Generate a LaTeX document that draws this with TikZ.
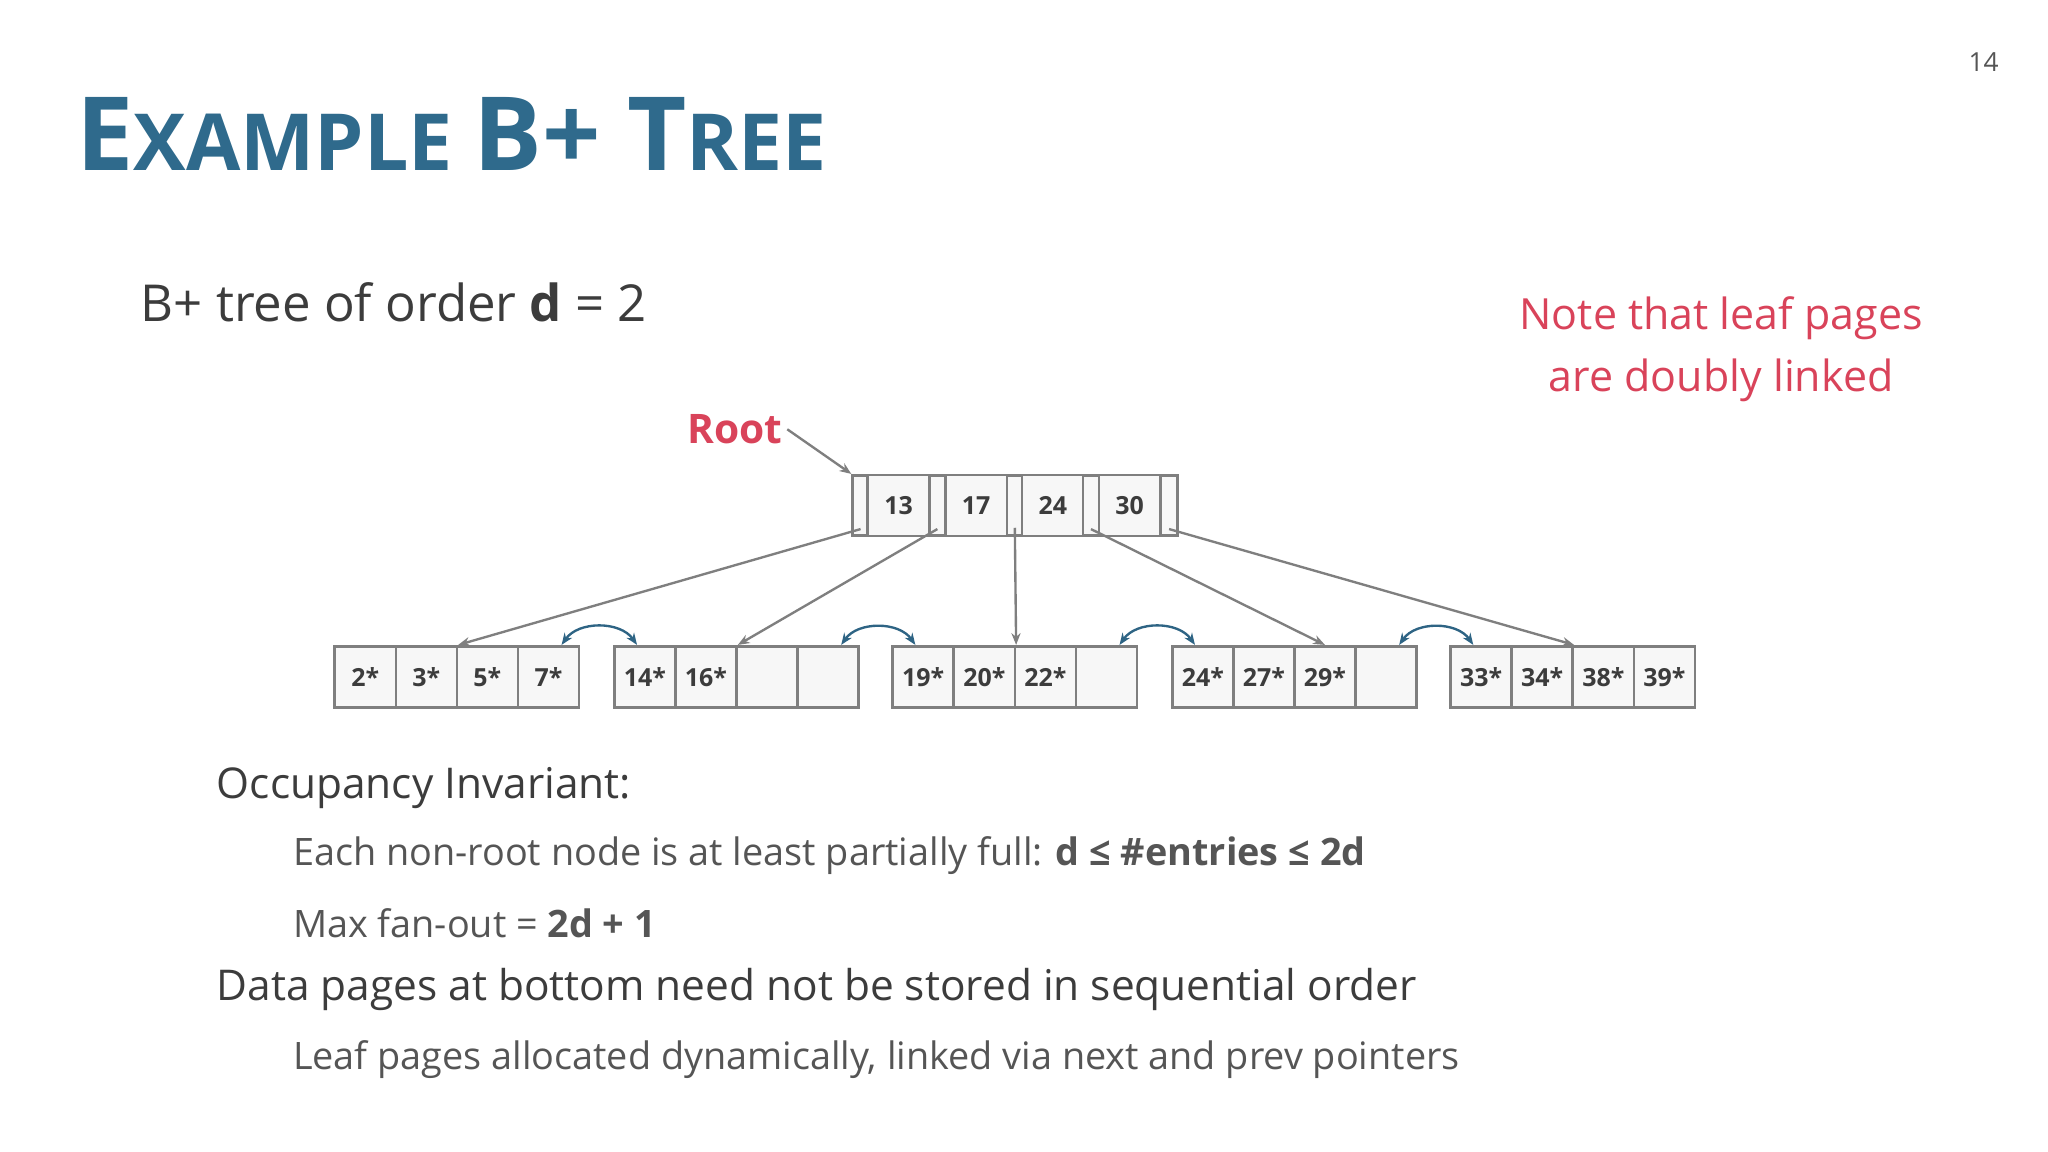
\documentclass[tikz,border=0pt]{standalone}
\usepackage{fontspec}
\setmainfont{Open Sans}
\usetikzlibrary{arrows.meta}
\definecolor{ttl}{HTML}{2F6A8C}
\definecolor{txt}{HTML}{3C3C3C}
\definecolor{sub}{HTML}{555555}
\definecolor{rd}{HTML}{D9435A}
\definecolor{bx}{HTML}{7F7F7F}
\definecolor{fl}{HTML}{F7F7F7}
\definecolor{lk}{HTML}{2E6484}
\tikzset{
 cell/.style={draw=bx,fill=fl,line width=2pt,minimum width=46.5pt,minimum height=46.5pt,inner sep=0pt,font=\fontsize{19}{19}\selectfont\bfseries,text=txt},
 slot/.style={draw=bx,fill=fl,line width=2pt,minimum width=12pt,minimum height=46pt,inner sep=0pt},
 ptr/.style={draw=bx,line width=1.8pt,-{Stealth[length=9pt,width=7pt]}},
 link/.style={draw=lk,line width=1.8pt,{Stealth[length=9pt,width=7pt]}-{Stealth[length=9pt,width=7pt]}},
 body/.style={anchor=west,inner sep=0pt,text=txt},
}
\begin{document}
\begin{tikzpicture}[x=1pt,y=-1pt]
\useasboundingbox (0,0) rectangle (1560,877.5);
\node[anchor=east,text=sub,font=\fontsize{20}{20}\selectfont] (pg) at (1526,47) {14};
\node[anchor=base west,inner sep=0pt,text=ttl,font=\bfseries] (title) at (58,130)
 {\fontsize{78}{78}\selectfont E\fontsize{60}{60}\selectfont XAMPLE \fontsize{78}{78}\selectfont B+ T\fontsize{60}{60}\selectfont REE};
\node[body,font=\fontsize{38.8}{38.8}\selectfont] (order) at (107,230) {B+ tree of order \textbf{d} = 2};
\node[text=rd,align=center,font=\fontsize{32.7}{47}\selectfont] (note) at (1311,266) {Note that leaf pages\\are doubly linked};
\node[text=rd,font=\fontsize{31}{31}\selectfont\bfseries] (root) at (560,327) {Root};
% root node
\node[slot] (s1) at (655.5,385) {};
\node[cell,minimum width=47pt] (k1) at (684.5,385) {13};
\node[slot] (s2) at (714,385) {};
\node[cell,minimum width=47pt] (k2) at (743.5,385) {17};
\node[slot] (s3) at (773,385) {};
\node[cell,minimum width=47pt] (k3) at (802,385) {24};
\node[slot] (s4) at (831,385) {};
\node[cell,minimum width=47pt] (k4) at (860.5,385) {30};
\node[slot,minimum width=13pt] (s5) at (890.5,385) {};
\draw[ptr] (root.east) -- (s1.north west);
% leaves
\foreach \l/\x/\a/\b/\c/\d in {1/255/2*/3*/5*/7*,2/468/14*/16*//,3/680/19*/20*/22*/,4/893/24*/27*/29*/,5/1105/33*/34*/38*/39*}{
 \node[cell] (l\l c1) at (\x+23.25,515.5) {\a};
 \node[cell] (l\l c2) at (\x+69.75,515.5) {\b};
 \node[cell] (l\l c3) at (\x+116.25,515.5) {\c};
 \node[cell] (l\l c4) at (\x+162.75,515.5) {\d};
}
\draw[ptr] ([yshift=-18pt]s1.center) -- (l1c2.north east);
\draw[ptr] ([yshift=-18pt]s2.center) -- (l2c2.north east);
\draw[ptr] ([yshift=-17pt]s3.center) -- (l3c2.north east);
\draw[ptr] ([yshift=-18pt]s4.center) -- (l4c3.north);
\draw[ptr] ([yshift=-18pt]s5.center) -- (l5c2.north east);
\draw[link] ([xshift=10pt]l1c4.north) to[bend left=55] ([xshift=-6pt]l2c1.north);
\draw[link] ([xshift=10pt]l2c4.north) to[bend left=55] ([xshift=-6pt]l3c1.north);
\draw[link] ([xshift=10pt]l3c4.north) to[bend left=55] ([xshift=-6pt]l4c1.north);
\draw[link] ([xshift=10pt]l4c4.north) to[bend left=55] ([xshift=-6pt]l5c1.north);
% bullets
\node[body,font=\fontsize{32.3}{32.3}\selectfont] (occ) at (165,600) {Occupancy Invariant:};
\node[body,text=sub,font=\fontsize{28.8}{28.8}\selectfont] (each) at (223,652) {Each non-root node is at least partially full: \textbf{d ≤ \#entries ≤ 2d}};
\node[body,text=sub,font=\fontsize{28.8}{28.8}\selectfont] (fan) at (223,703) {Max fan-out = \textbf{2d + 1}};
\node[body,font=\fontsize{32.3}{32.3}\selectfont] (data) at (165,754) {Data pages at bottom need not be stored in sequential order};
\node[body,text=sub,font=\fontsize{28.8}{28.8}\selectfont] (leaf) at (223,807) {Leaf pages allocated dynamically, linked via next and prev pointers};
\end{tikzpicture}
\end{document}
